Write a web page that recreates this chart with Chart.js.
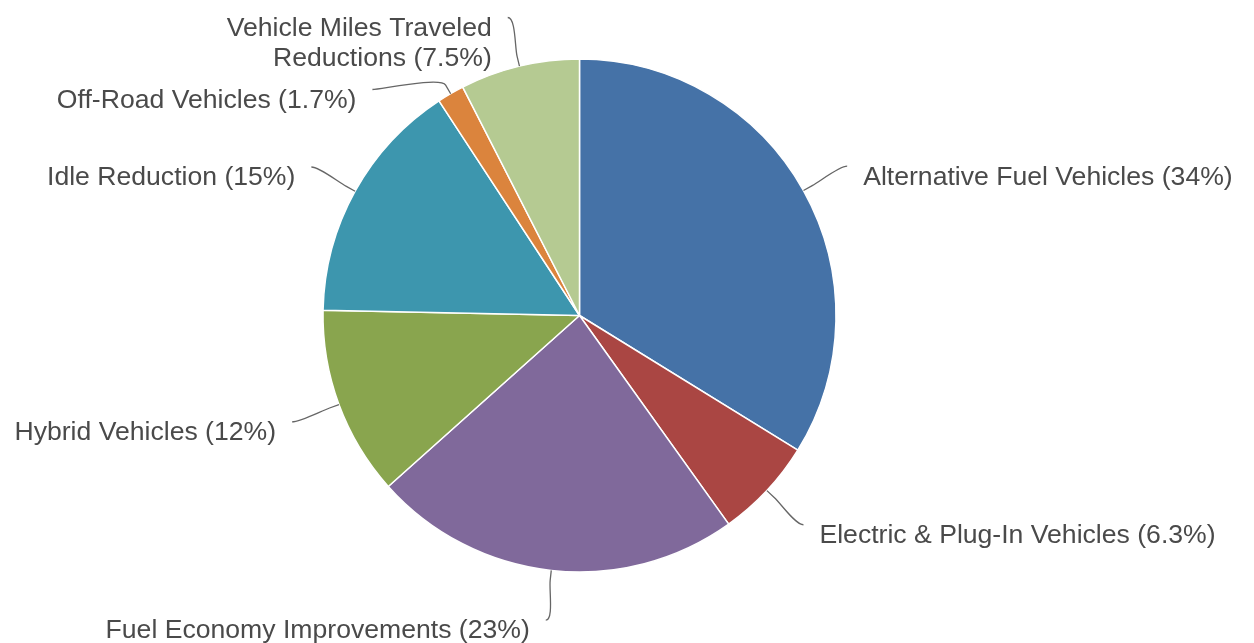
<!DOCTYPE html>
<html lang="en">
<head>
    <meta charset="UTF-8">
    <title>Funding by Project Type</title>
    <script src="https://cdn.jsdelivr.net/npm/chart.js"></script>
    <style>
        * { margin: 0; padding: 0; box-sizing: border-box; }
        body { background: #ffffff; width: 1254px; height: 643px; overflow: hidden; }
        canvas { display: block; }
    </style>
</head>
<body>
    <canvas id="pieChart" width="1254" height="643"></canvas>
    <script>
        // category names (multi-line ones as arrays)
        const categories = [
            'Alternative Fuel Vehicles',
            'Electric & Plug-In Vehicles',
            'Fuel Economy Improvements',
            'Hybrid Vehicles',
            'Idle Reduction',
            'Off-Road Vehicles',
            ['Vehicle Miles Traveled', 'Reductions']
        ];
        const shares = [33.7, 6.3, 23.2, 11.9, 15.4, 1.7, 7.5];
        const sliceColors = ['#4572A7', '#AA4643', '#80699B', '#89A54E', '#3D96AE', '#DB843D', '#B5CA92'];

        const labelFont = '26.6px "Liberation Sans", Arial, sans-serif';
        const labelDistance = 50;
        const lineHeight = 30;

        // outside labels with curved connectors, placed from each arc's geometry
        const outsideLabels = {
            id: 'outsideLabels',
            afterDatasetsDraw(chart) {
                const ctx = chart.ctx;
                const meta = chart.getDatasetMeta(0);
                const data = chart.data.datasets[0].data;
                const total = data.reduce((a, b) => a + b, 0);
                const items = [];
                meta.data.forEach((arc, i) => {
                    const p = arc.getProps(['x', 'y', 'startAngle', 'endAngle', 'outerRadius'], true);
                    const mid = (p.startAngle + p.endAngle) / 2;
                    const dx = Math.cos(mid), dy = Math.sin(mid);
                    const r = p.outerRadius;
                    const pct = Number((data[i] / total * 100).toPrecision(2));
                    const lines = [].concat(chart.data.labels[i]).slice();
                    lines[lines.length - 1] += ' (' + pct + '%)';
                    items.push({
                        cx: p.x, cy: p.y, r: r, dx: dx, dy: dy,
                        left: dx < 0,
                        y: p.y + (r + labelDistance) * dy,
                        lines: lines
                    });
                });
                // push overlapping labels down, per side
                [true, false].forEach(side => {
                    const list = items.filter(it => it.left === side).sort((a, b) => a.y - b.y);
                    for (let k = 1; k < list.length; k++) {
                        const prev = list[k - 1];
                        const minY = prev.y + prev.lines.length * lineHeight + 12;
                        if (list[k].y < minY) list[k].y = minY;
                    }
                });
                ctx.save();
                ctx.font = labelFont;
                ctx.textBaseline = 'middle';
                items.forEach(it => {
                    const rr = it.r + labelDistance;
                    const off = Math.min(Math.abs(it.y - it.cy), rr);
                    const lx = it.cx + (it.left ? -1 : 1) * Math.sqrt(rr * rr - off * off);
                    const ly = it.y;
                    const ex = it.cx + it.r * it.dx, ey = it.cy + it.r * it.dy;
                    const bx = it.cx + (it.r + 10) * it.dx, by = it.cy + (it.r + 10) * it.dy;
                    ctx.beginPath();
                    ctx.moveTo(lx, ly);
                    ctx.bezierCurveTo(lx + (it.left ? 8 : -8), ly, 2 * bx - ex, 2 * by - ey, bx, by);
                    ctx.lineTo(ex, ey);
                    ctx.strokeStyle = '#666666';
                    ctx.lineWidth = 1.3;
                    ctx.stroke();
                    ctx.fillStyle = '#4a4a4a';
                    ctx.textAlign = it.left ? 'right' : 'left';
                    const tx = lx + (it.left ? -16 : 16);
                    it.lines.forEach((t, j) => {
                        ctx.fillText(t, tx, ly + 11 + j * lineHeight);
                    });
                });
                ctx.restore();
            }
        };

        new Chart(document.getElementById('pieChart').getContext('2d'), {
            type: 'pie',
            data: {
                labels: categories,
                datasets: [{
                    data: shares,
                    backgroundColor: sliceColors,
                    borderColor: '#ffffff',
                    borderWidth: 1.5,
                    hoverBorderWidth: 1.5,
                    hoverOffset: 0
                }]
            },
            options: {
                responsive: false,
                animation: false,
                events: [],
                layout: { padding: { left: 322.25, right: 417.25, top: 58.25, bottom: 70.25 } },
                plugins: {
                    legend: { display: false },
                    tooltip: { enabled: false }
                }
            },
            plugins: [outsideLabels]
        });
    </script>
</body>
</html>
